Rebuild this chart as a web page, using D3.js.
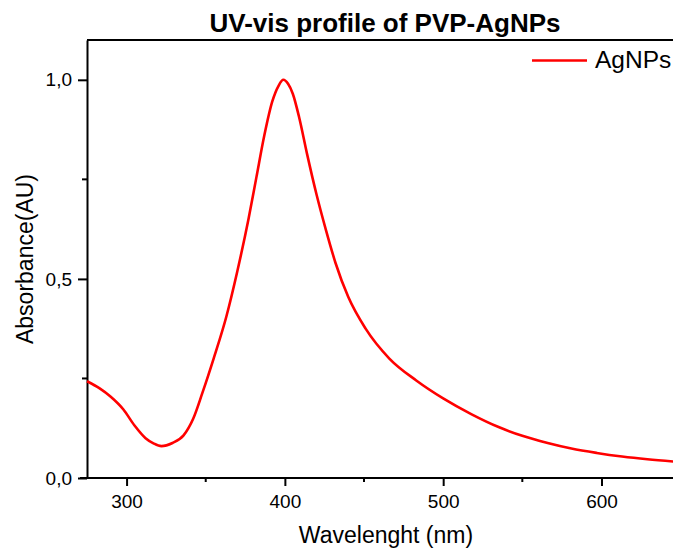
<!DOCTYPE html>
<html>
<head>
<meta charset="utf-8">
<script src="https://cdn.jsdelivr.net/npm/d3@7"></script>
<style>
  body { margin: 0; background: #fff; }
  text { font-family: 'Liberation Sans', Arial, sans-serif; fill: #000; }
</style>
</head>
<body>
<svg id="chart" width="673" height="548"></svg>
<script>
// Spectrum (nm, AU)
const wavelength = [275, 283, 290, 298, 305, 312, 317, 322, 329, 336, 342, 348, 355, 363, 370, 377, 382, 387, 392, 396, 399, 402, 405, 409, 414, 420, 426, 432, 440, 451, 466, 483, 500, 518, 535, 550, 566, 581, 597, 613, 629, 650];
const absorbance = [0.243, 0.225, 0.204, 0.172, 0.132, 0.100, 0.087, 0.080, 0.088, 0.107, 0.148, 0.215, 0.300, 0.405, 0.520, 0.650, 0.755, 0.860, 0.945, 0.985, 1.0, 0.99, 0.965, 0.906, 0.814, 0.712, 0.622, 0.540, 0.455, 0.375, 0.300, 0.245, 0.200, 0.160, 0.128, 0.106, 0.088, 0.074, 0.063, 0.054, 0.047, 0.040];

const xMajor = [300, 400, 500, 600];
const xMinor = [350, 450, 550];
const yMajor = [0, 0.5, 1.0];
const yMinor = [0.25, 0.75];

const seriesName = 'AgNPs';
const title = 'UV-vis profile of PVP-AgNPs';
const xTitle = 'Wavelenght (nm)';
const yTitle = 'Absorbance(AU)';

const svg = d3.select('#chart');
const plotLeft = 87, plotTop = 40, plotBottom = 478;

const x = d3.scaleLinear().domain([275, 650]).range([plotLeft, plotLeft + 375 * 1.583]);
const y = d3.scaleLinear().domain([0, 1.1]).range([plotBottom, plotTop]);

const fmt = d => d3.format('.1f')(d).replace('.', ',');

// top frame line
svg.append('line')
  .attr('x1', plotLeft).attr('x2', 673)
  .attr('y1', plotTop).attr('y2', plotTop)
  .attr('stroke', '#000').attr('stroke-width', 2);

// x axis
const xAxis = svg.append('g')
  .attr('transform', `translate(0,${plotBottom})`)
  .call(d3.axisBottom(x).tickValues(xMajor).tickSize(8).tickPadding(5).tickSizeOuter(0));
xAxis.append('g').selectAll('line')
  .data(xMinor).enter().append('line')
  .attr('x1', d => x(d)).attr('x2', d => x(d))
  .attr('y1', 0).attr('y2', 4)
  .attr('stroke', '#000').attr('stroke-width', 2);

// y axis
const yAxis = svg.append('g')
  .attr('transform', `translate(${plotLeft},0)`)
  .call(d3.axisLeft(y).tickValues(yMajor).tickFormat(fmt).tickSize(9).tickPadding(6).tickSizeOuter(0));
yAxis.append('g').selectAll('line')
  .data(yMinor).enter().append('line')
  .attr('x1', 0).attr('x2', -5)
  .attr('y1', d => y(d)).attr('y2', d => y(d))
  .attr('stroke', '#000').attr('stroke-width', 2);

[xAxis, yAxis].forEach(a => {
  a.select('.domain').attr('stroke', '#000').attr('stroke-width', 2);
  a.selectAll('.tick line').attr('stroke', '#000').attr('stroke-width', 2);
  a.selectAll('.tick text')
    .attr('font-family', "'Liberation Sans', Arial, sans-serif")
    .attr('font-size', 19).attr('fill', '#000');
});
xAxis.selectAll('.tick text').attr('dy', '0.92em');
// extend x domain line to the left edge of the plot
xAxis.select('.domain').attr('d', `M${plotLeft - 7},0H673`);

// curve
const data = wavelength.map((w, i) => ({ w: w, a: absorbance[i] }));
svg.append('path')
  .datum(data)
  .attr('fill', 'none')
  .attr('stroke', '#ff0000')
  .attr('stroke-width', 2.6)
  .attr('d', d3.line().x(d => x(d.w)).y(d => y(d.a)).curve(d3.curveMonotoneX));

// title
svg.append('text')
  .attr('x', 385).attr('y', 31.5)
  .attr('text-anchor', 'middle')
  .attr('font-size', 26).attr('font-weight', 'bold')
  .text(title);

// axis titles
svg.append('text')
  .attr('x', 386).attr('y', 543)
  .attr('text-anchor', 'middle')
  .attr('font-size', 23)
  .text(xTitle);

svg.append('text')
  .attr('transform', 'translate(33,259) rotate(-90)')
  .attr('text-anchor', 'middle')
  .attr('font-size', 23)
  .text(yTitle);

// legend
svg.append('line')
  .attr('x1', 532).attr('x2', 587)
  .attr('y1', 60.5).attr('y2', 60.5)
  .attr('stroke', '#ff0000').attr('stroke-width', 2.6);
svg.append('text')
  .attr('x', 595).attr('y', 67.5)
  .attr('font-size', 24.5)
  .text(seriesName);
</script>
</body>
</html>
